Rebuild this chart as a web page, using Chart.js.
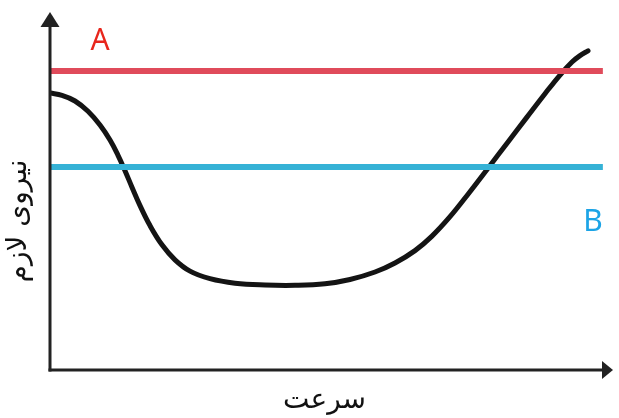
<!DOCTYPE html>
<html>
<head>
<meta charset="utf-8">
<script src="https://cdn.jsdelivr.net/npm/chart.js@4.4.1/dist/chart.umd.min.js"></script>
<style>
  body { margin: 0; background: #fff; }
  canvas { display: block; }
</style>
</head>
<body>
<canvas id="forceChart" width="619" height="418"></canvas>
<script>
// chart data (x: speed, y: force, both 0..100)
const curveX = [0, 2.13, 4.44, 6.75, 8.88, 10.66, 12.08, 13.32, 14.56, 15.99, 17.76, 19.89, 22.2, 24.87, 28.42, 32.86, 38.19, 43.52, 48.85, 53.29, 57.73, 61.28, 64.83, 67.85, 71.05, 74.25, 77.8, 81.35, 84.72, 87.92, 90.59, 92.72, 94.14, 95.56];
const curveY = [77.37, 76.7, 75.14, 72.26, 68.41, 64.22, 59.97, 55.67, 51.06, 45.92, 40.34, 34.97, 30.78, 27.62, 25.5, 24.24, 23.74, 23.66, 24.08, 25.28, 27.37, 29.89, 33.35, 37.4, 42.82, 49.11, 56.37, 63.69, 70.64, 77.18, 82.4, 86.03, 87.82, 89.16];
const levelA = 83.5;
const levelB = 56.7;
const levelEnd = 98.2;
const labelA = "A";
const labelB = "B";
const xTitle = "سرعت";
const yTitle = "نیروی لازم";

const curvePoints = curveX.map((x, i) => ({ x: x, y: curveY[i] }));

/* axes with arrows + text labels */
const axesPlugin = {
    id: "axesArrows",
    afterDatasetsDraw(chart) {
        const { ctx, chartArea } = chart;
        const { left, right, top, bottom } = chartArea;
        ctx.save();
        ctx.strokeStyle = "#222";
        ctx.fillStyle = "#222";
        ctx.lineWidth = 3;

        // y axis
        ctx.beginPath();
        ctx.moveTo(left, bottom + 1.5);
        ctx.lineTo(left, top + 12);
        ctx.stroke();
        ctx.beginPath();
        ctx.moveTo(left, top);
        ctx.lineTo(left - 9.5, top + 15);
        ctx.lineTo(left + 9.5, top + 15);
        ctx.closePath();
        ctx.fill();

        // x axis
        ctx.beginPath();
        ctx.moveTo(left - 1.5, bottom);
        ctx.lineTo(right - 8, bottom);
        ctx.stroke();
        ctx.beginPath();
        ctx.moveTo(right, bottom);
        ctx.lineTo(right - 11, bottom - 9);
        ctx.lineTo(right - 11, bottom + 9);
        ctx.closePath();
        ctx.fill();

        // A / B labels
        ctx.textAlign = "center";
        ctx.textBaseline = "middle";
        ctx.font = "30px 'Noto Sans'";
        ctx.fillStyle = "#e8261c";
        ctx.fillText(labelA, left + 50, top + 29);
        ctx.fillStyle = "#1ca4e6";
        ctx.fillText(labelB, right - 20, top + 210);

        // axis titles
        ctx.fillStyle = "#111";
        ctx.font = "28px 'DejaVu Sans'";
        ctx.fillText(xTitle, (left + right) / 2 - 7, bottom + 31);
        ctx.translate(19, top + 209);
        ctx.rotate(-Math.PI / 2);
        ctx.fillText(yTitle, 0, 0);
        ctx.restore();
    }
};

const ctx = document.getElementById("forceChart").getContext("2d");
new Chart(ctx, {
    type: "line",
    data: {
        datasets: [
            {
                data: [{ x: 0, y: levelA }, { x: levelEnd, y: levelA }],
                borderColor: "#e04b5b",
                borderWidth: 6,
                pointRadius: 0,
                order: 1
            },
            {
                data: [{ x: 0, y: levelB }, { x: levelEnd, y: levelB }],
                borderColor: "#35b2d6",
                borderWidth: 6,
                pointRadius: 0,
                order: 1
            },
            {
                data: curvePoints,
                borderColor: "#141414",
                borderWidth: 5,
                borderCapStyle: "round",
                borderJoinStyle: "round",
                pointRadius: 0,
                tension: 0.4,
                order: 2
            }
        ]
    },
    options: {
        responsive: false,
        animation: false,
        layout: { padding: { left: 50, right: 6, top: 12, bottom: 48 } },
        plugins: {
            legend: { display: false },
            tooltip: { enabled: false }
        },
        scales: {
            x: { type: "linear", min: 0, max: 100, display: false },
            y: { type: "linear", min: 0, max: 100, display: false }
        }
    },
    plugins: [axesPlugin]
});
</script>
</body>
</html>
